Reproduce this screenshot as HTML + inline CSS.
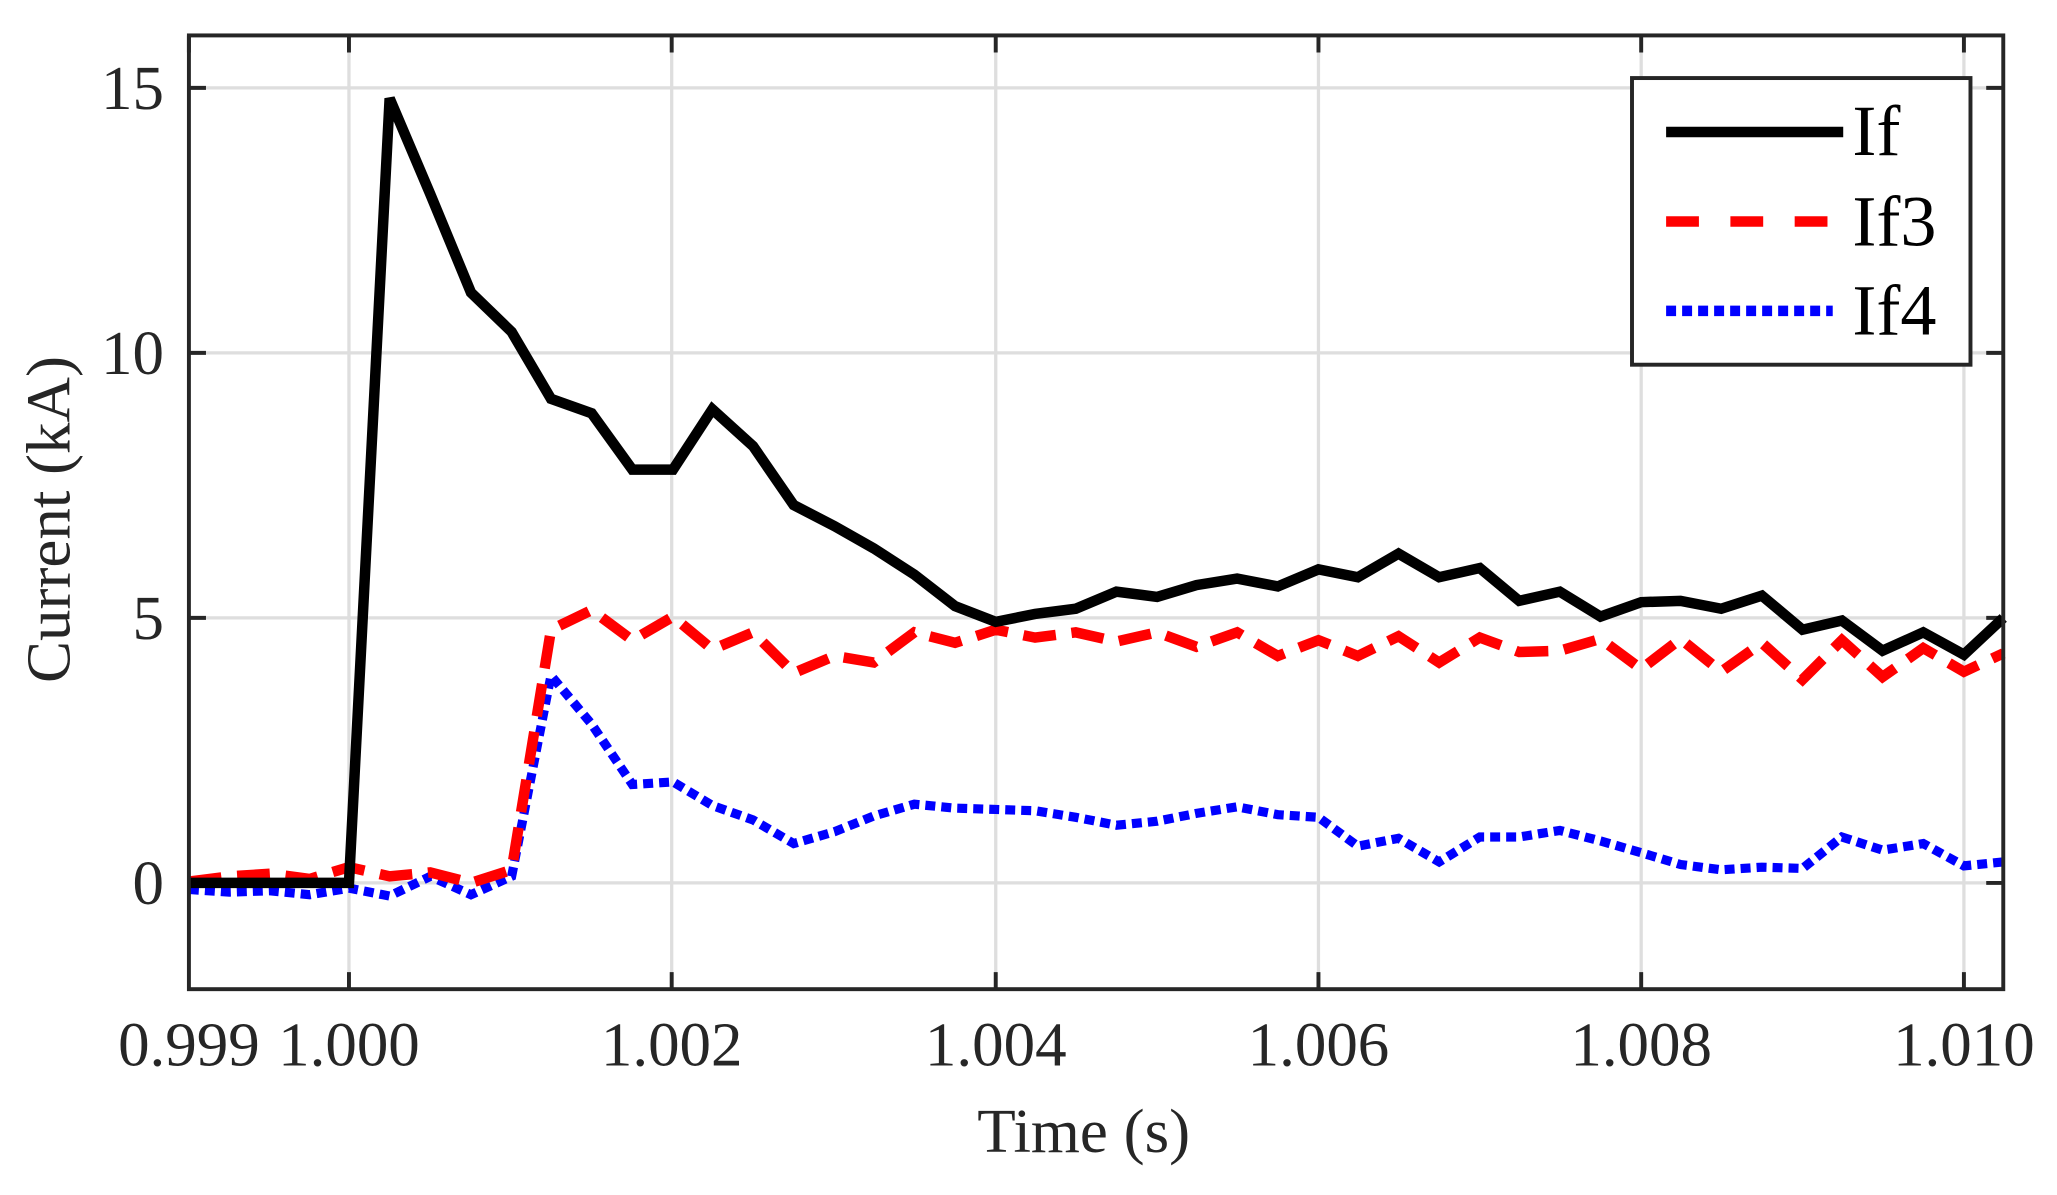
<!DOCTYPE html>
<html><head><meta charset="utf-8"><style>
html,body{margin:0;padding:0;background:#fff;}
svg{display:block;}
text{font-family:"Liberation Serif",serif;fill:#262626;}
</style></head><body>
<svg width="2057" height="1195" viewBox="0 0 2057 1195" xmlns="http://www.w3.org/2000/svg">
<rect width="2057" height="1195" fill="#fff"/>
<g transform="scale(1.3119)">
<g stroke="#dedede" stroke-width="2.5">
<line x1="266" y1="27" x2="266" y2="754"/>
<line x1="512" y1="27" x2="512" y2="754"/>
<line x1="759" y1="27" x2="759" y2="754"/>
<line x1="1005" y1="27" x2="1005" y2="754"/>
<line x1="1251" y1="27" x2="1251" y2="754"/>
<line x1="1497" y1="27" x2="1497" y2="754"/>
<line x1="144" y1="67" x2="1527" y2="67"/>
<line x1="144" y1="269" x2="1527" y2="269"/>
<line x1="144" y1="471" x2="1527" y2="471"/>
<line x1="144" y1="673" x2="1527" y2="673"/>
</g>
<g stroke="#262626" stroke-width="3">
<path d="M266 27v13M512 27v13M759 27v13M1005 27v13M1251 27v13M1497 27v13M144 27v13"/>
<path d="M266 754v-13M512 754v-13M759 754v-13M1005 754v-13M1251 754v-13M1497 754v-13"/>
<path d="M144 67h13M144 269h13M144 471h13M144 673h13"/>
<path d="M1527 67h-13M1527 269h-13M1527 471h-13M1527 673h-13"/>
</g>
<g fill="none" stroke-linejoin="miter">
<polyline stroke="#0000ff" stroke-width="7" stroke-dasharray="7.6,4.6" points="144,678 175,680 206,679 236,682 266,677 297,683 328,668 359,682 390,668 420,515 451,552 482,598 513,596 543,614 574,625 605,643 636,634 666,622 697,613 728,616 759,617 789,618 820,623 851,629 882,626 912,620 943,615 974,621 1005,623 1035,645 1066,639 1097,657 1128,638 1158,638 1189,633 1220,641 1251,650 1281,659 1312,663 1343,661 1374,662 1404,638 1435,648 1466,643 1497,660 1527,657"/>
<polyline stroke="#ff0000" stroke-width="8" stroke-dasharray="25,12" points="144,672 175,668 206,666 236,670 266,661 297,668 328,665 359,673 390,663 420,480 451,465 482,488 513,470 543,495 574,482 605,513 636,500 666,505 697,482 728,490 759,480 789,486 820,482 851,489 882,482 912,493 943,482 974,500 1005,488 1035,500 1066,485 1097,505 1128,486 1158,497 1189,496 1220,487 1251,510 1281,487 1312,512 1343,490 1374,518 1404,488 1435,516 1466,494 1497,512 1527,498"/>
<polyline stroke="#000" stroke-width="8" points="144,673 266,673 297,75 328,148 359,223 390,253 420,304 451,315 482,358 513,358 543,312 574,340 605,385 636,401 666,418 697,438 728,462 759,474 789,468 820,464 851,451 882,455 912,446 943,441 974,447 1005,434 1035,440 1066,422 1097,440 1128,433 1158,458 1189,451 1220,470 1251,459 1281,458 1312,464 1343,454 1374,480 1404,473 1435,496 1466,482 1497,499 1527,471"/>
</g>
<rect x="144" y="27" width="1383" height="727" fill="none" stroke="#262626" stroke-width="3"/>
<rect x="1244" y="59.5" width="258" height="218.5" fill="#fff" stroke="#262626" stroke-width="3"/>
<line x1="1270" y1="100.6" x2="1405" y2="100.6" stroke="#000" stroke-width="8"/>
<line x1="1270" y1="168.8" x2="1396" y2="168.8" stroke="#ff0000" stroke-width="8" stroke-dasharray="25,24"/>
<line x1="1270" y1="237" x2="1397" y2="237" stroke="#0000ff" stroke-width="8" stroke-dasharray="7.6,4.6"/>
<g font-size="55">
<text x="1412" y="118" style="fill:#000">If</text>
<text x="1412" y="187" style="fill:#000">If3</text>
<text x="1412" y="255" style="fill:#000">If4</text>
</g>
<g font-size="48" text-anchor="end">
<text x="125" y="83">15</text>
<text x="125" y="285">10</text>
<text x="125" y="487">5</text>
<text x="125" y="689">0</text>
</g>
<g font-size="48" text-anchor="middle">
<text x="144" y="812">0.999</text>
<text x="266" y="812">1.000</text>
<text x="512" y="812">1.002</text>
<text x="759" y="812">1.004</text>
<text x="1005" y="812">1.006</text>
<text x="1251" y="812">1.008</text>
<text x="1497" y="812">1.010</text>
<text x="826" y="878">Time (s)</text>
<text transform="translate(53,396) rotate(-90)">Current (kA)</text>
</g>
</g>
</svg>
</body></html>
